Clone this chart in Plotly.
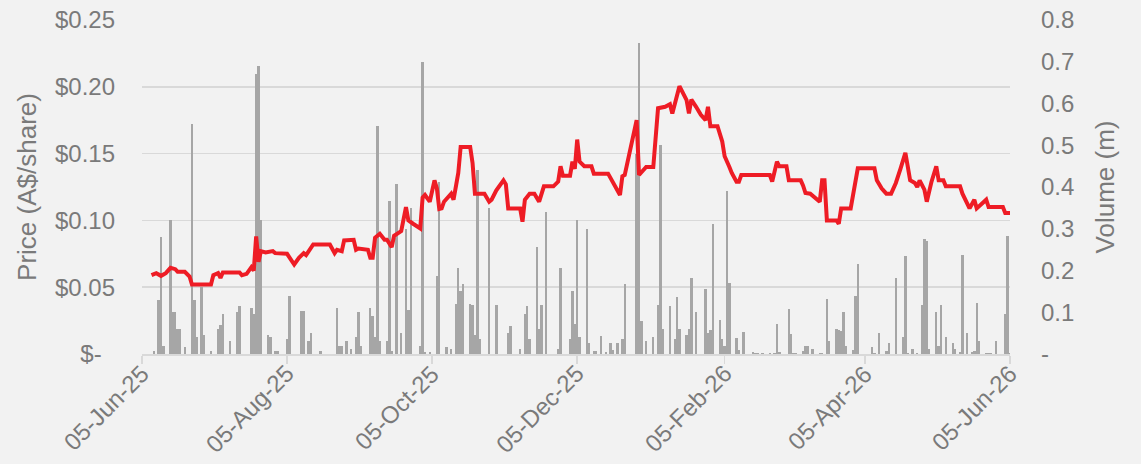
import plotly.graph_objects as go

# ---- data ----
price_dates = ["2025-06-09","2025-06-11","2025-06-13","2025-06-15","2025-06-17","2025-06-19","2025-06-20","2025-06-23","2025-06-25","2025-06-26",
"2025-07-04","2025-07-05","2025-07-07","2025-07-08","2025-07-09","2025-07-16","2025-07-17","2025-07-19","2025-07-21","2025-07-22",
"2025-07-23","2025-07-24","2025-07-25","2025-07-27","2025-07-30","2025-07-31","2025-08-05","2025-08-06","2025-08-08","2025-08-10",
"2025-08-12","2025-08-13","2025-08-16","2025-08-23","2025-08-25","2025-08-26","2025-08-28","2025-08-29","2025-09-02","2025-09-03",
"2025-09-04","2025-09-08","2025-09-09","2025-09-10","2025-09-11","2025-09-13","2025-09-15","2025-09-16","2025-09-18","2025-09-19",
"2025-09-21","2025-09-22","2025-09-24","2025-09-25","2025-09-27","2025-09-30","2025-10-01","2025-10-02","2025-10-04","2025-10-06",
"2025-10-07","2025-10-08","2025-10-09","2025-10-10","2025-10-13","2025-10-14","2025-10-15","2025-10-16","2025-10-17","2025-10-21",
"2025-10-22","2025-10-23","2025-10-27","2025-10-29","2025-10-30","2025-11-01","2025-11-04","2025-11-05","2025-11-06","2025-11-11",
"2025-11-12","2025-11-13","2025-11-15","2025-11-17","2025-11-19","2025-11-21","2025-11-25","2025-11-27","2025-11-28","2025-11-29",
"2025-12-02","2025-12-03","2025-12-04","2025-12-05","2025-12-06","2025-12-08","2025-12-11","2025-12-12","2025-12-18","2025-12-20",
"2025-12-23","2025-12-24","2025-12-25","2025-12-30","2025-12-31","2026-01-03","2026-01-06","2026-01-08","2026-01-11","2026-01-13",
"2026-01-14","2026-01-17","2026-01-19","2026-01-20","2026-01-21","2026-01-22","2026-01-24","2026-01-26","2026-01-28","2026-01-29",
"2026-01-30","2026-02-02","2026-02-04","2026-02-05","2026-02-07","2026-02-08","2026-02-10","2026-02-11","2026-02-12","2026-02-24",
"2026-02-25","2026-02-27","2026-02-28","2026-03-03","2026-03-04","2026-03-09","2026-03-10","2026-03-11","2026-03-13","2026-03-15",
"2026-03-17","2026-03-18","2026-03-19","2026-03-20","2026-03-24","2026-03-25","2026-03-26","2026-03-30","2026-04-01","2026-04-02",
"2026-04-09","2026-04-10","2026-04-12","2026-04-14","2026-04-16","2026-04-18","2026-04-20","2026-04-22","2026-04-23","2026-04-24",
"2026-04-26","2026-04-27","2026-04-28","2026-04-30","2026-05-01","2026-05-03","2026-05-05","2026-05-06","2026-05-08","2026-05-09",
"2026-05-15","2026-05-16","2026-05-19","2026-05-21","2026-05-22","2026-05-24","2026-05-26","2026-05-27","2026-06-02","2026-06-03",
"2026-06-05"]
price_values = [0.059,0.0605,0.0585,0.0605,0.0645,0.0635,0.0615,0.0615,0.058,0.052,
0.052,0.059,0.0605,0.057,0.061,0.061,0.059,0.060,0.065,0.0625,
0.088,0.069,0.077,0.076,0.077,0.0755,0.075,0.072,0.067,0.072,
0.0755,0.074,0.082,0.082,0.0755,0.078,0.077,0.085,0.0855,0.078,
0.079,0.078,0.072,0.072,0.087,0.090,0.0855,0.0855,0.080,0.0885,
0.0905,0.092,0.110,0.100,0.0975,0.094,0.117,0.119,0.114,0.130,
0.124,0.1085,0.109,0.114,0.120,0.1155,0.1255,0.1355,0.155,0.155,
0.143,0.120,0.120,0.114,0.1155,0.1225,0.130,0.127,0.109,0.109,
0.099,0.1155,0.120,0.120,0.114,0.1255,0.1255,0.129,0.1405,0.1335,
0.1335,0.144,0.1385,0.1605,0.144,0.1405,0.1405,0.135,0.135,0.128,
0.119,0.133,0.134,0.175,0.134,0.140,0.140,0.184,0.185,0.187,
0.180,0.2005,0.1935,0.190,0.180,0.1905,0.185,0.179,0.175,0.185,
0.1705,0.1705,0.159,0.148,0.140,0.1355,0.129,0.129,0.134,0.134,
0.129,0.144,0.1405,0.1405,0.130,0.130,0.126,0.1205,0.120,0.1165,
0.114,0.130,0.130,0.100,0.100,0.0975,0.109,0.109,0.129,0.139,
0.139,0.130,0.124,0.120,0.120,0.128,0.139,0.1505,0.1405,0.130,
0.128,0.125,0.130,0.123,0.114,0.129,0.1405,0.130,0.130,0.1255,
0.1255,0.120,0.109,0.1155,0.109,0.112,0.1155,0.110,0.110,0.1055,
0.1055]

volume_dates = ["2025-06-10","2025-06-12","2025-06-13","2025-06-14","2025-06-17","2025-06-18","2025-06-19","2025-06-20","2025-06-21","2025-06-23",
"2025-06-26","2025-06-27","2025-06-28","2025-06-30","2025-07-01","2025-07-04","2025-07-07","2025-07-08","2025-07-09","2025-07-12",
"2025-07-15","2025-07-16","2025-07-21","2025-07-22","2025-07-23","2025-07-24","2025-07-25","2025-07-28","2025-07-29","2025-07-31",
"2025-08-01","2025-08-05","2025-08-06","2025-08-11","2025-08-12","2025-08-14","2025-08-15","2025-08-19","2025-08-26","2025-08-27",
"2025-08-28","2025-08-30","2025-09-01","2025-09-03","2025-09-04","2025-09-05","2025-09-09","2025-09-10","2025-09-11","2025-09-12",
"2025-09-13","2025-09-16","2025-09-17","2025-09-18","2025-09-20","2025-09-22","2025-09-24","2025-09-25","2025-09-26","2025-09-30",
"2025-10-01","2025-10-02","2025-10-04","2025-10-07","2025-10-08","2025-10-11","2025-10-13","2025-10-15","2025-10-16","2025-10-17",
"2025-10-18","2025-10-21","2025-10-22","2025-10-23","2025-10-24","2025-10-25","2025-10-29","2025-11-01","2025-11-06","2025-11-07",
"2025-11-11","2025-11-13","2025-11-14","2025-11-15","2025-11-18","2025-11-19","2025-11-20","2025-11-22","2025-11-27","2025-11-28",
"2025-12-02","2025-12-03","2025-12-04","2025-12-05","2025-12-06","2025-12-09","2025-12-10","2025-12-12","2025-12-13","2025-12-15",
"2025-12-17","2025-12-19","2025-12-20","2025-12-22","2025-12-24","2025-12-25","2025-12-30","2025-12-31","2026-01-01","2026-01-03",
"2026-01-06","2026-01-08","2026-01-09","2026-01-10","2026-01-13","2026-01-15","2026-01-16","2026-01-17","2026-01-20","2026-01-21",
"2026-01-22","2026-01-24","2026-01-28","2026-01-29","2026-01-30","2026-01-31","2026-02-03","2026-02-04","2026-02-05","2026-02-06",
"2026-02-07","2026-02-10","2026-02-11","2026-02-13","2026-02-17","2026-02-18","2026-02-19","2026-02-21","2026-02-24","2026-02-26",
"2026-02-27","2026-02-28","2026-03-04","2026-03-05","2026-03-06","2026-03-07","2026-03-10","2026-03-11","2026-03-12","2026-03-14",
"2026-03-17","2026-03-18","2026-03-20","2026-03-21","2026-03-24","2026-03-25","2026-03-26","2026-03-27","2026-03-28","2026-03-31",
"2026-04-01","2026-04-02","2026-04-08","2026-04-09","2026-04-11","2026-04-14","2026-04-15","2026-04-18","2026-04-21","2026-04-22",
"2026-04-23","2026-04-25","2026-04-27","2026-04-29","2026-04-30","2026-05-01","2026-05-02","2026-05-05","2026-05-06","2026-05-07",
"2026-05-09","2026-05-12","2026-05-13","2026-05-15","2026-05-16","2026-05-18","2026-05-20","2026-05-21","2026-05-22","2026-05-23",
"2026-05-26","2026-05-27","2026-05-28","2026-05-30","2026-06-03","2026-06-04","2026-06-05"]
volume_values = [0.008,0.13,0.28,0.02,0.32,0.10,0.10,0.06,0.06,0.016,
0.55,0.13,0.04,0.16,0.045,0.008,0.06,0.07,0.095,0.03,
0.10,0.115,0.11,0.095,0.67,0.69,0.32,0.045,0.04,0.008,
0.008,0.035,0.14,0.104,0.104,0.03,0.05,0.008,0.11,0.018,
0.018,0.03,0.013,0.04,0.10,0.02,0.11,0.09,0.04,0.547,
0.03,0.03,0.367,0.008,0.408,0.05,0.30,0.105,0.349,0.02,
0.70,0.005,0.005,0.187,0.413,0.016,0.011,0.12,0.205,0.152,
0.168,0.12,0.118,0.046,0.44,0.035,0.35,0.118,0.05,0.067,
0.011,0.096,0.114,0.035,0.256,0.06,0.118,0.34,0.013,0.205,
0.035,0.15,0.072,0.32,0.04,0.30,0.026,0.008,0.008,0.043,
0.005,0.026,0.01,0.027,0.035,0.168,0.478,0.746,0.078,0.032,
0.04,0.118,0.50,0.06,0.114,0.035,0.136,0.06,0.046,0.06,
0.183,0.10,0.155,0.05,0.058,0.312,0.082,0.035,0.02,0.39,
0.17,0.038,0.01,0.053,0.005,0.003,0.003,0.003,0.003,0.003,
0.072,0.006,0.107,0.048,0.003,0.003,0.008,0.019,0.019,0.011,
0.003,0.003,0.131,0.03,0.06,0.058,0.054,0.10,0.02,0.01,
0.14,0.215,0.016,0.003,0.05,0.008,0.027,0.183,0.04,0.234,
0.003,0.011,0.003,0.118,0.275,0.27,0.011,0.10,0.02,0.118,
0.04,0.027,0.011,0.005,0.238,0.05,0.005,0.008,0.123,0.03,
0.003,0.003,0.003,0.03,0.096,0.283,0.003]

x_tick_dates = ["2025-06-05","2025-08-05","2025-10-05","2025-12-05","2026-02-05","2026-04-05","2026-06-05"]
x_tick_labels = ["05-Jun-25","05-Aug-25","05-Oct-25","05-Dec-25","05-Feb-26","05-Apr-26","05-Jun-26"]
price_ticks = [0, 0.05, 0.10, 0.15, 0.20, 0.25]
price_tick_labels = ["$-\u00a0\u00a0", "$0.05", "$0.10", "$0.15", "$0.20", "$0.25"]
volume_ticks = [0, 0.1, 0.2, 0.3, 0.4, 0.5, 0.6, 0.7, 0.8]
volume_tick_labels = ["-", "0.1", "0.2", "0.3", "0.4", "0.5", "0.6", "0.7", "0.8"]

TXT = "#7a7a7a"
GRID = "#d9d9d9"
FONT = "Liberation Sans, Arial, sans-serif"

fig = go.Figure()
fig.add_trace(go.Bar(x=volume_dates, y=volume_values, yaxis="y", marker=dict(color="#a6a6a6", line=dict(width=0)),
                     width=86400000 * 1.0, name="Volume"))
fig.add_trace(go.Scatter(x=price_dates, y=price_values, yaxis="y2", mode="lines",
                         line=dict(color="#ee1c25", width=4), name="Price"))

# rotated date labels placed under each tick of the date axis
for d, lab in zip(x_tick_dates, x_tick_labels):
    fig.add_annotation(x=d, y=0, xref="x", yref="paper", text=lab, showarrow=False,
                       textangle=-45, xanchor="right", yanchor="top", xshift=15, yshift=-3,
                       font=dict(size=24, color=TXT, family=FONT))

fig.update_layout(
    width=1141, height=464,
    margin=dict(l=142, r=131, t=20, b=110, autoexpand=False),
    paper_bgcolor="#f2f2f2", plot_bgcolor="#f2f2f2",
    showlegend=False,
    font=dict(family=FONT, color=TXT, size=24),
    bargap=0,
    xaxis=dict(type="date", range=["2025-06-05", "2026-06-05"], automargin=False,
               tickvals=x_tick_dates, ticktext=x_tick_labels, showticklabels=False,
               showgrid=False, showline=True, linecolor=GRID, linewidth=1.5,
               ticks="outside", ticklen=8, tickcolor=GRID, tickwidth=1.5,
               zeroline=False),
    yaxis=dict(side="right", range=[0, 0.8], tickvals=volume_ticks, ticktext=volume_tick_labels,
               showgrid=False, zeroline=False, ticklabelstandoff=30, automargin=False,
               tickfont=dict(size=24, color=TXT, family=FONT),
               title=dict(text="Volume (m)", font=dict(size=26, color=TXT, family=FONT), standoff=22)),
    yaxis2=dict(side="left", overlaying="y", range=[0, 0.25], tickvals=price_ticks, ticktext=price_tick_labels,
                showgrid=True, gridcolor=GRID, gridwidth=1.5, zeroline=False, ticklabelstandoff=26, automargin=False,
                tickfont=dict(size=24, color=TXT, family=FONT),
                title=dict(text="Price (A$/share)", font=dict(size=26, color=TXT, family=FONT), standoff=10)),
)

fig.write_html("out.html", config={"displayModeBar": False, "staticPlot": True})

# remove the default page margin so the figure fills the window exactly
with open("out.html", "r", encoding="utf-8") as f:
    html = f.read()
html = html.replace("<head>", "<head><style>html,body{margin:0;padding:0;overflow:hidden;}</style>", 1)
with open("out.html", "w", encoding="utf-8") as f:
    f.write(html)
